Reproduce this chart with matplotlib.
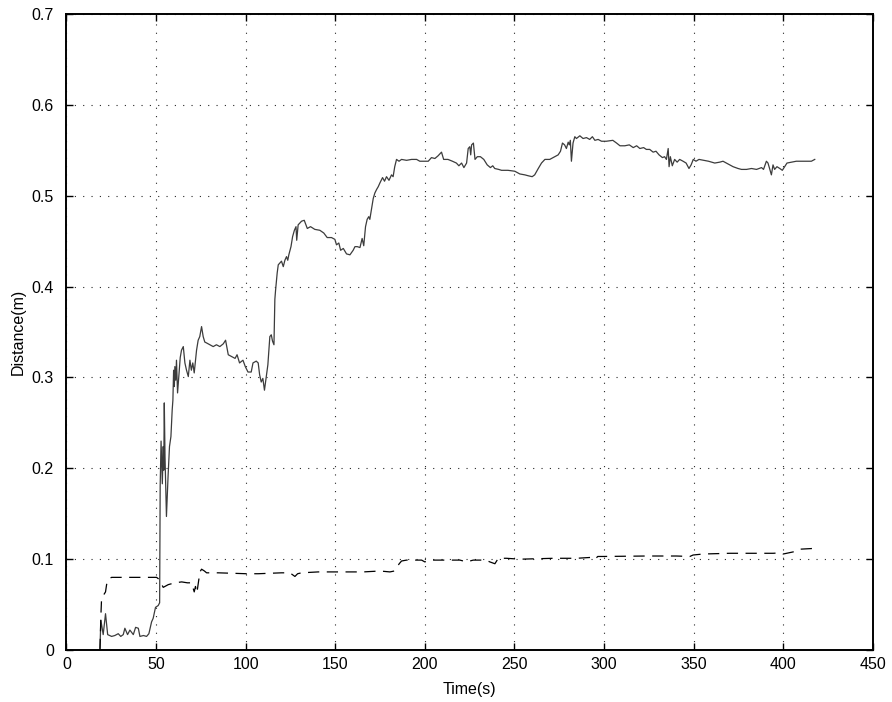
import numpy as np
from matplotlib import pyplot as plt

plt.rcParams["font.family"] = ["Liberation Sans", "DejaVu Sans"]

# tracked distance (solid) and reference distance (dashed) over time
solid_t = [
    18.7, 19.2, 20.5, 21.8, 23.0, 25.2, 27.0, 28.9, 30.3, 31.7, 32.6, 34.1, 35.4, 37.3,
    38.6, 40.1, 41.0, 43.0, 44.7, 46.0, 47.5, 48.4, 49.7, 51.2, 52.0, 52.3, 52.8, 53.5,
    54.0, 54.3, 54.6, 55.0, 55.8, 56.7, 57.5, 58.3, 59.0, 59.4, 59.8, 60.2, 60.5, 61.0,
    61.4, 62.0, 62.7, 63.5, 64.2, 65.2, 66.1, 67.0, 68.0, 68.9, 69.7, 70.5, 71.3, 72.6,
    73.5, 74.4, 75.4, 76.3, 77.2, 78.2, 80.0, 81.9, 83.7, 85.6, 87.5, 88.8, 90.3, 92.2,
    94.1, 95.2, 96.6, 98.5, 99.8, 101.3, 103.1, 104.1, 105.9, 107.0, 107.8, 108.7, 109.6,
    110.5, 111.5, 112.4, 113.5, 114.3, 115.0, 115.8, 116.3, 116.7, 117.6, 118.2, 120.0,
    121.0, 121.9, 122.8, 123.5, 124.1, 125.3, 126.2, 127.2, 128.1, 128.5, 129.3, 131.2,
    132.7, 134.4, 136.2, 138.6, 141.4, 143.6, 145.5, 147.9, 149.8, 150.7, 152.0, 153.0,
    154.5, 156.3, 158.2, 160.0, 161.0, 162.3, 163.8, 165.0, 165.9, 166.9, 167.8, 168.7,
    169.3, 170.3, 171.2, 172.1, 173.1, 174.0, 174.9, 176.4, 177.5, 178.6, 180.0, 181.4,
    182.3, 183.2, 184.2, 185.6, 187.0, 189.8, 192.6, 195.4, 197.2, 200.0, 201.9, 203.7,
    205.6, 207.4, 209.3, 210.5, 212.9, 215.4, 217.6, 219.0, 220.5, 221.8, 223.3, 224.2,
    225.1, 225.6, 226.1, 227.1, 228.0, 229.3, 231.0, 232.9, 234.8, 236.6, 237.9, 239.0,
    241.2, 242.8, 246.4, 250.2, 253.0, 255.8, 257.7, 259.9, 261.3, 263.3, 265.1, 267.0,
    269.7, 272.5, 274.4, 275.7, 276.8, 278.0, 279.0, 280.0, 280.6, 281.2, 281.8, 282.7,
    283.7, 284.6, 286.5, 288.3, 290.2, 292.0, 293.5, 294.9, 296.7, 298.6, 301.3, 304.9,
    307.0, 308.9, 311.6, 314.1, 316.3, 318.2, 320.0, 322.1, 323.6, 325.5, 327.4, 329.0,
    330.7, 332.6, 333.8, 334.8, 335.8, 336.3, 337.0, 338.1, 339.4, 340.8, 342.2, 344.1,
    345.8, 347.4, 348.6, 349.8, 351.3, 353.0, 355.6, 358.3, 361.8, 364.6, 366.4, 369.2,
    372.0, 374.8, 376.7, 379.5, 382.3, 385.1, 387.9, 389.0, 390.6, 391.5, 392.5, 393.4,
    394.3, 395.2, 396.5, 398.1, 399.5, 400.8, 402.1, 404.6, 407.3, 410.1, 412.9, 415.7,
    417.6,
]
solid_d = [
    0.002, 0.033, 0.017, 0.040, 0.017, 0.015, 0.016, 0.018, 0.015, 0.017, 0.024, 0.017,
    0.022, 0.017, 0.025, 0.024, 0.015, 0.016, 0.015, 0.018, 0.031, 0.035, 0.047, 0.049,
    0.052, 0.180, 0.230, 0.183, 0.224, 0.198, 0.272, 0.213, 0.147, 0.191, 0.224, 0.235,
    0.264, 0.275, 0.308, 0.290, 0.312, 0.297, 0.319, 0.283, 0.301, 0.322, 0.330, 0.334,
    0.316, 0.308, 0.301, 0.319, 0.308, 0.316, 0.305, 0.330, 0.341, 0.345, 0.356, 0.345,
    0.339, 0.338, 0.336, 0.334, 0.336, 0.334, 0.337, 0.341, 0.325, 0.323, 0.321, 0.325,
    0.316, 0.319, 0.312, 0.306, 0.306, 0.316, 0.318, 0.316, 0.303, 0.295, 0.299, 0.286,
    0.301, 0.314, 0.345, 0.347, 0.340, 0.336, 0.386, 0.396, 0.415, 0.424, 0.428, 0.422,
    0.429, 0.433, 0.429, 0.435, 0.444, 0.455, 0.462, 0.466, 0.451, 0.468, 0.472, 0.473,
    0.464, 0.466, 0.463, 0.462, 0.459, 0.454, 0.454, 0.452, 0.446, 0.448, 0.440, 0.442,
    0.436, 0.435, 0.440, 0.444, 0.444, 0.443, 0.453, 0.445, 0.466, 0.474, 0.477, 0.474,
    0.486, 0.497, 0.503, 0.507, 0.510, 0.514, 0.520, 0.516, 0.521, 0.517, 0.523, 0.521,
    0.532, 0.540, 0.538, 0.540, 0.539, 0.540, 0.540, 0.538, 0.538, 0.538, 0.542, 0.541,
    0.544, 0.548, 0.540, 0.540, 0.538, 0.536, 0.533, 0.536, 0.531, 0.536, 0.552, 0.554,
    0.545, 0.556, 0.558, 0.540, 0.543, 0.543, 0.540, 0.534, 0.531, 0.533, 0.530, 0.529,
    0.528, 0.528, 0.527, 0.524, 0.523, 0.522, 0.521, 0.523, 0.530, 0.536, 0.540, 0.540,
    0.543, 0.545, 0.549, 0.558, 0.556, 0.552, 0.559, 0.556, 0.561, 0.538, 0.558, 0.565,
    0.563, 0.566, 0.563, 0.564, 0.562, 0.565, 0.561, 0.562, 0.560, 0.560, 0.561, 0.558,
    0.555, 0.555, 0.556, 0.553, 0.555, 0.552, 0.553, 0.551, 0.551, 0.548, 0.549, 0.545,
    0.542, 0.543, 0.540, 0.552, 0.532, 0.543, 0.533, 0.540, 0.537, 0.540, 0.538, 0.536,
    0.530, 0.534, 0.540, 0.538, 0.540, 0.539, 0.538, 0.536, 0.537, 0.538, 0.535, 0.532,
    0.530, 0.529, 0.529, 0.530, 0.529, 0.531, 0.529, 0.538, 0.536, 0.529, 0.523, 0.534,
    0.529, 0.532, 0.530, 0.528, 0.532, 0.536, 0.537, 0.538, 0.538, 0.538, 0.538, 0.540,
]

dashed_t = [
    18.7, 19.2, 19.6, 21.8, 22.4, 23.3, 25.2, 35.0, 45.0, 50.3, 51.6, 54.0, 56.8, 60.5,
    64.3, 67.5, 69.8, 71.3, 72.0, 72.8, 73.6, 74.5, 75.4, 77.0, 78.2, 84.7, 100.5, 107.0,
    120.0, 124.7, 127.5, 129.0, 131.2, 140.5, 145.1, 165.6, 175.0, 180.5, 183.0, 185.7,
    187.0, 189.8, 198.2, 200.0, 202.5, 208.4, 219.6, 223.3, 227.0, 234.0, 236.3, 239.1,
    241.0, 245.6, 253.1, 271.7, 284.7, 293.1, 295.0, 296.5, 299.5, 323.7, 340.4, 347.9,
    349.7, 355.2, 370.2, 394.3, 398.9, 400.0, 405.5, 409.2, 418.5,
]
dashed_d = [
    0.0, 0.037, 0.057, 0.064, 0.072, 0.078, 0.080, 0.080, 0.080, 0.080, 0.078, 0.069,
    0.072, 0.074, 0.075, 0.074, 0.074, 0.064, 0.070, 0.063, 0.074, 0.086, 0.089, 0.087,
    0.085, 0.085, 0.084, 0.084, 0.085, 0.085, 0.081, 0.084, 0.085, 0.086, 0.086, 0.086,
    0.087, 0.086, 0.087, 0.095, 0.098, 0.099, 0.099, 0.097, 0.099, 0.099, 0.099, 0.097,
    0.099, 0.099, 0.097, 0.095, 0.101, 0.101, 0.100, 0.101, 0.101, 0.102, 0.100, 0.103,
    0.103, 0.1035, 0.1035, 0.103, 0.1046, 0.1057, 0.1065, 0.1065, 0.107, 0.1057, 0.108,
    0.111, 0.112,
]

x_ticks = np.arange(0, 451, 50)
y_ticks = np.arange(0, 0.71, 0.1)

fig = plt.figure(figsize=(8.92, 7.02), dpi=100)
ax = fig.add_axes([0.0745, 0.074, 0.904, 0.906])

ax.plot(solid_t, solid_d, color="#3c3c3c", lw=0.9)
ax.plot(dashed_t, dashed_d, color="black", lw=0.9, dashes=(9, 6))

ax.set_xlim(0, 450)
ax.set_ylim(0, 0.7)
ax.set_xticks(x_ticks)
ax.set_yticks(y_ticks)
ax.set_xticklabels([f"{v:g}" for v in x_ticks])
ax.set_yticklabels([f"{v:g}" for v in np.round(y_ticks, 1)])

ax.grid(True, color="black", lw=0.8, linestyle=(0, (1, 6.5)), alpha=0.85)
ax.tick_params(direction="in", length=5, width=1, top=True, right=True, labelsize=11.5)
ax.tick_params(axis="x", pad=5)
ax.tick_params(axis="y", pad=9)
for s in ax.spines.values():
    s.set_linewidth(1.4)

ax.set_xlabel("Time(s)", fontsize=11.5)
ax.set_ylabel("Distance(m)", fontsize=11.5)
ax.xaxis.set_label_coords(0.5, -0.05)
ax.yaxis.set_label_coords(-0.05, 0.5)

plt.savefig("out.png", dpi=100)
